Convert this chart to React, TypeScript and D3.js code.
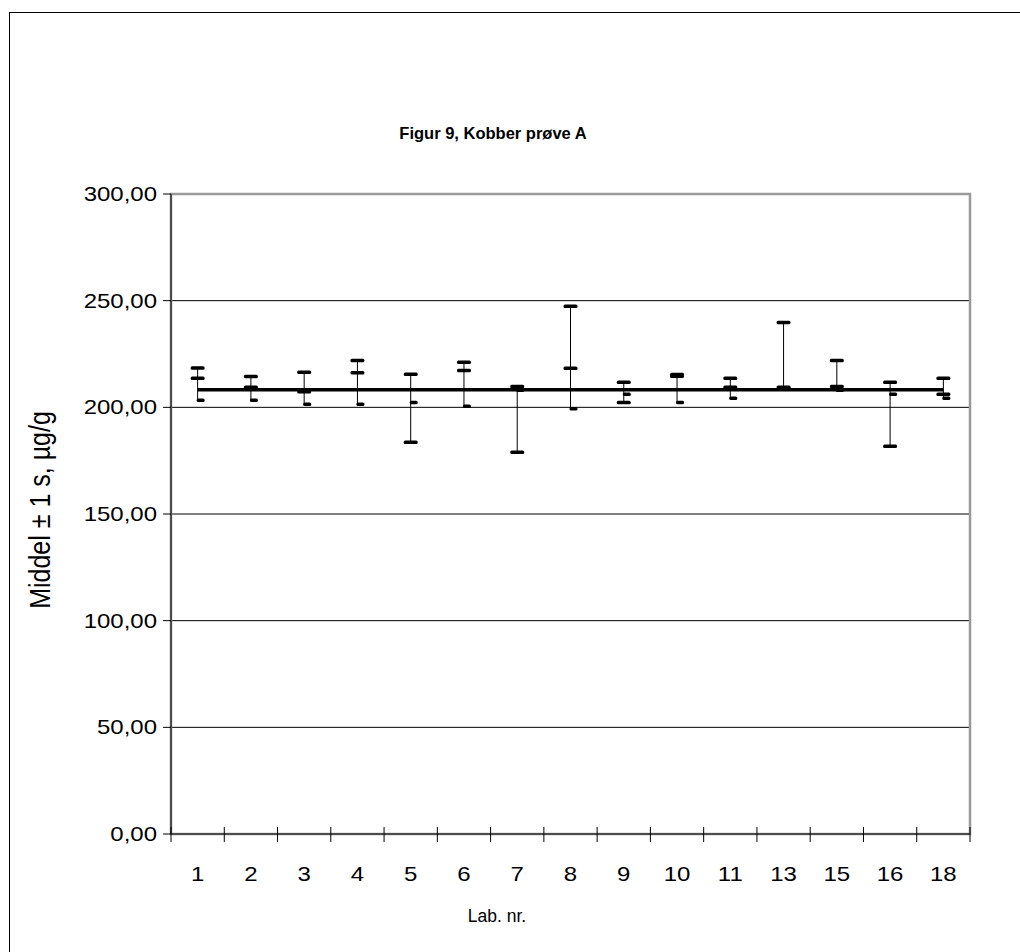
import React from "react";
import * as d3 from "d3";

// Lab numbers on the x axis
const labs = ["1", "2", "3", "4", "5", "6", "7", "8", "9", "10", "11", "13", "15", "16", "18"];
// full-width dash markers (two per lab)
const markA = [218.4, 214.5, 216.4, 222.0, 215.5, 221.1, 209.8, 247.4, 211.7, 215.4, 213.6, 239.8, 222.0, 211.7, 213.6];
const markB = [213.6, 209.4, 207.3, 216.2, 183.6, 217.3, 178.9, 218.3, 202.3, 214.6, 209.4, 209.4, 209.8, 181.7, 206.1];
// short dash markers
const markC = [203.3, 203.3, 201.4, 201.5, 202.3, 200.5, 208.0, 199.3, 206.1, 202.3, 204.2, 208.9, 208.0, 206.1, 204.2];
const overallMean = 208.3;
const yTicks = [0, 50, 100, 150, 200, 250, 300];

const FONT = "'Liberation Sans', Arial, sans-serif";
const SX = 1.2; // tick labels in the original are stretched horizontally

const App = () => {
  const left = 171, right = 970, top = 194, bottom = 834;
  const x = d3.scaleBand().domain(labs).range([left, right]).padding(0);
  const y = d3.scaleLinear().domain([0, 300]).range([bottom, top]);
  const cx = (l: string) => (x(l) as number) + x.bandwidth() / 2;
  const fmt = (v: number) => d3.format(".2f")(v).replace(".", ",");

  const meanLine = d3.line<string>().x(d => cx(d)).y(() => y(overallMean));

  return (
    <svg width={1020} height={952} style={{ position: "absolute", left: 0, top: 0, fontFamily: FONT }}>
      <rect x={0} y={0} width={1020} height={952} fill="#fff" />
      <rect x={9.5} y={12.5} width={1030} height={980} fill="none" stroke="#000" strokeWidth={1} />

      <text x={493} y={139} textAnchor="middle" fontSize={16.5} fontWeight="bold">
        Figur 9, Kobber prøve A
      </text>

      {/* gridlines */}
      {yTicks.filter(t => t > 0 && t < 300).map(t => (
        <line key={t} x1={left} x2={right} y1={y(t)} y2={y(t)} stroke="#000" strokeWidth={1} />
      ))}

      {/* plot border */}
      <rect x={left} y={top} width={right - left} height={bottom - top} fill="none" stroke="#999" strokeWidth={2.5} />
      <line x1={left} x2={left} y1={top} y2={bottom} stroke="#000" strokeWidth={1} />
      <line x1={left} x2={right} y1={bottom} y2={bottom} stroke="#000" strokeWidth={1} />

      {/* y axis */}
      {yTicks.map(t => (
        <g key={t}>
          <line x1={left - 8} x2={left} y1={y(t)} y2={y(t)} stroke="#000" />
          <text transform={`translate(157,${y(t) + 7}) scale(${SX},1)`} textAnchor="end" fontSize={20}>
            {fmt(t)}
          </text>
        </g>
      ))}

      {/* x axis ticks */}
      {labs.concat(["end"]).map((l, i) => {
        const xx = left + i * x.bandwidth();
        return <line key={"t" + i} x1={xx} x2={xx} y1={bottom - 7} y2={bottom + 8} stroke="#000" />;
      })}
      {labs.map(l => (
        <text key={l} transform={`translate(${cx(l)},881) scale(${SX},1)`} textAnchor="middle" fontSize={20}>
          {l}
        </text>
      ))}

      <text x={497} y={922} textAnchor="middle" fontSize={17.5}>
        Lab. nr.
      </text>
      <text transform={`translate(50,510) scale(${SX},1) rotate(-90)`} textAnchor="middle" fontSize={25}>
        Middel ± 1 s, µg/g
      </text>

      {/* high-low lines */}
      {labs.map((l, i) => {
        const vals = [markA[i], markB[i], markC[i]];
        return (
          <line key={"v" + l} x1={cx(l)} x2={cx(l)} y1={y(d3.max(vals) as number)} y2={y(d3.min(vals) as number)}
            stroke="#000" strokeWidth={1} />
        );
      })}

      {/* mean line */}
      <path d={meanLine(labs) || ""} fill="none" stroke="#000" strokeWidth={3.5} />

      {/* markers */}
      {labs.map((l, i) => (
        <g key={"m" + l}>
          {[markA[i], markB[i]].map((v, k) => (
            <rect key={k} x={cx(l) - 7} y={y(v) - 1.75} width={14} height={3.5} rx={1.5} fill="#000" />
          ))}
          <rect x={cx(l) - 1} y={y(markC[i]) - 1.75} width={8} height={3.5} rx={1.5} fill="#000" />
        </g>
      ))}
    </svg>
  );
};

export default App;
